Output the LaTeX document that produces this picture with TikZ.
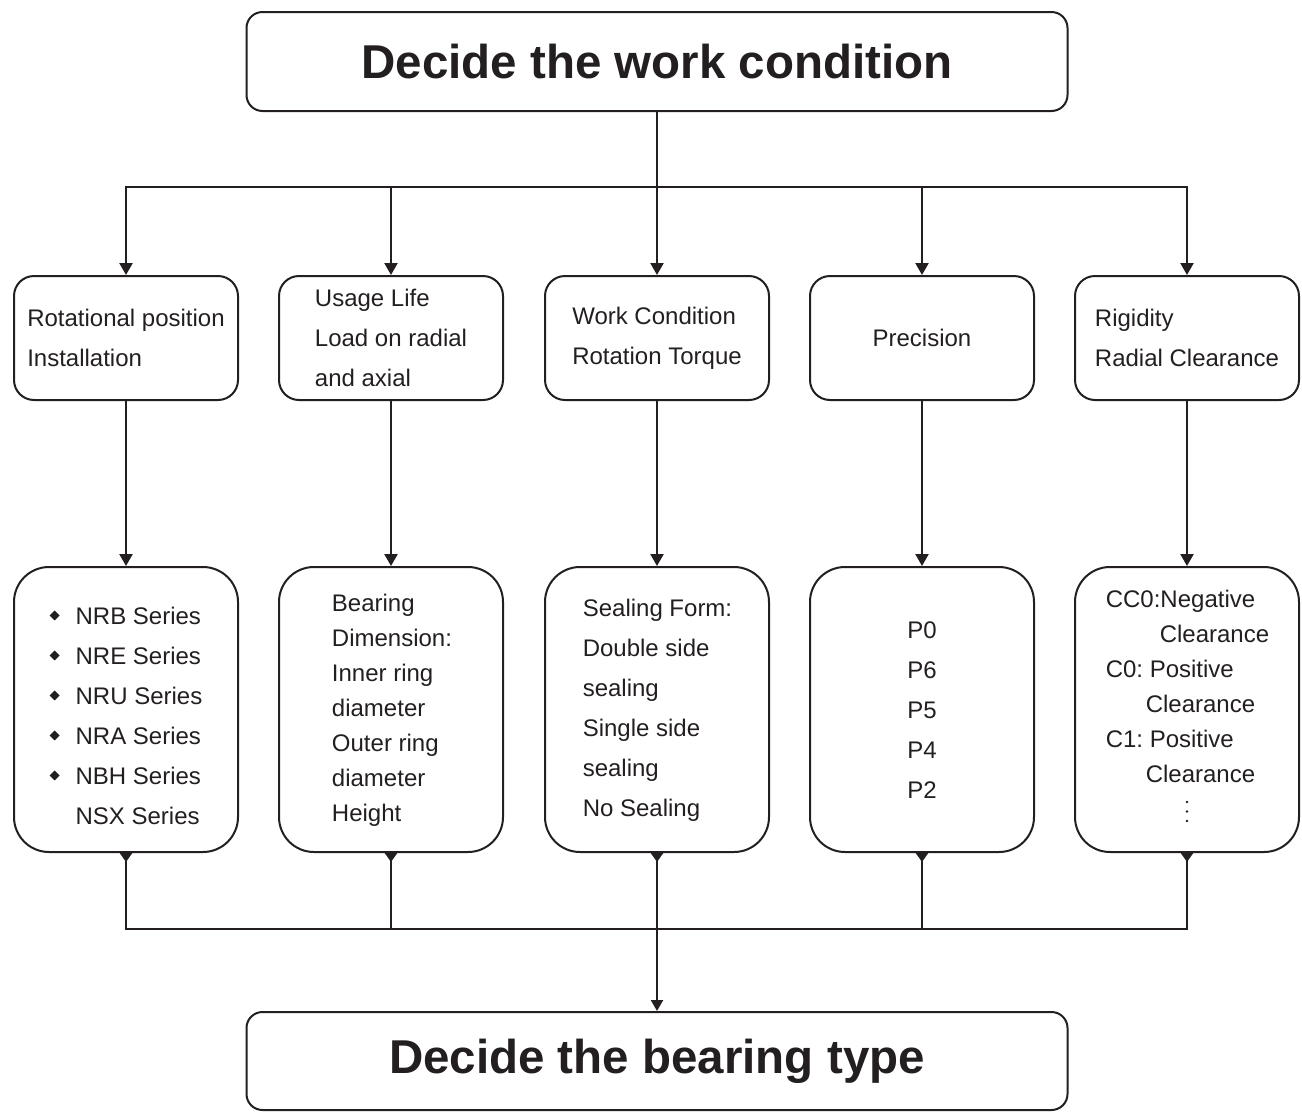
\documentclass[tikz,border=0pt]{standalone}
\usepackage{fontspec}
\setmainfont{Liberation Sans}
\usetikzlibrary{arrows.meta}
\definecolor{ink}{RGB}{35,31,32}
\newcommand{\dmd}{\raisebox{3.65pt}{\rotatebox{45}{\rule{7pt}{7pt}}}}
\frenchspacing
\begin{document}
\begin{tikzpicture}[x=1pt,y=-1pt,
  every node/.style={text=ink},
  bigbox/.style={draw=ink,line width=2pt,rounded corners=16pt,minimum width=821pt,inner sep=0,font=\fontsize{47.5}{50}\selectfont\bfseries},
  midbox/.style={draw=ink,line width=2pt,rounded corners=20pt,minimum width=224pt,minimum height=124pt,inner sep=0,align=left,font=\fontsize{24}{40}\selectfont},
  lowbox/.style={draw=ink,line width=2pt,rounded corners=35pt,minimum width=224pt,minimum height=285pt,inner sep=0},
  txt/.style={inner sep=0,align=left,font=\fontsize{24}{40}\selectfont},
  txtb/.style={inner sep=0,align=left,font=\fontsize{24}{35}\selectfont},
  link/.style={draw=ink,line width=2.3pt},
  arr/.style={link,-{Triangle[width=13pt,length=12pt]}},
  arrs/.style={link,-{Triangle[width=12pt,length=11pt]}},
  stub/.style={link,{Triangle[reversed,width=12pt,length=9pt]}-},
]
\useasboundingbox (0,0) rectangle (1302,1112);

% top and bottom boxes
\node[bigbox,minimum height=99pt] (top) at (657,61.5) {Decide the work condition};
\node[bigbox,minimum height=98pt] (bot) at (657,1061) {Decide the bearing type};

% middle boxes
\node[midbox] (m1) at (126,338) {Rotational position\\Installation};
\node[midbox] (m2) at (391,338) {Usage Life\\Load on radial\\and axial};
\node[midbox] (m3) at (657,338) {Work Condition\\Rotation Torque};
\node[midbox] (m4) at (922,338) {Precision};
\node[midbox] (m5) at (1187,338) {Rigidity\\Radial Clearance};

% lower boxes
\node[lowbox] (l1) at (126,709.5) {};
\node[lowbox] (l2) at (391,709.5) {};
\node[lowbox] (l3) at (657,709.5) {};
\node[lowbox] (l4) at (922,709.5) {};
\node[lowbox] (l5) at (1187,709.5) {};

\node[txt] (t1) at (126,715.5) {\makebox[26pt][l]{\dmd}NRB Series\\\makebox[26pt][l]{\dmd}NRE Series\\\makebox[26pt][l]{\dmd}NRU Series\\\makebox[26pt][l]{\dmd}NRA Series\\\makebox[26pt][l]{\dmd}NBH Series\\\hspace*{26pt}NSX Series};
\node[txtb] (t2) at (392,710) {Bearing\\Dimension:\\Inner ring\\diameter\\Outer ring\\diameter\\Height};
\node[txt] (t3) at (657.5,710) {Sealing Form:\\Double side\\sealing\\Single side\\sealing\\No Sealing};
\node[txt,align=center] (t4) at (922,710.5) {P0\\P6\\P5\\P4\\P2};
\node[txtb] (t5) at (1187.5,686.5) {CC0:Negative\\\hspace*{54pt}Clearance\\C0: Positive\\\hspace*{40pt}Clearance\\C1: Positive\\\hspace*{40pt}Clearance};
\foreach \yy in {802,811.5,821} \fill[ink] (1187,\yy) circle (1.3pt);

% top distribution
\coordinate (hubT) at (657,187);
\draw[link] (top.south) -- (hubT);
\draw[arr] (hubT) -| (m1.north);
\draw[arr] (hubT) -| (m5.north);
\draw[arr] (hubT -| m2.north) -- (m2.north);
\draw[arr] (hubT) -- (m3.north);
\draw[arr] (hubT -| m4.north) -- (m4.north);

% middle to lower
\foreach \i in {1,...,5} \draw[arr] (m\i.south) -- (l\i.north);

% bottom collection
\coordinate (hubB) at (657,929);
\draw[stub] (l1.south) |- (hubB);
\draw[stub] (l5.south) |- (hubB);
\draw[stub] (l2.south) -- (l2.south |- hubB);
\draw[stub] (l4.south) -- (l4.south |- hubB);
\draw[stub] (l3.south) -- (hubB);
\draw[arrs] (hubB) -- (bot.north);
\end{tikzpicture}
\end{document}
